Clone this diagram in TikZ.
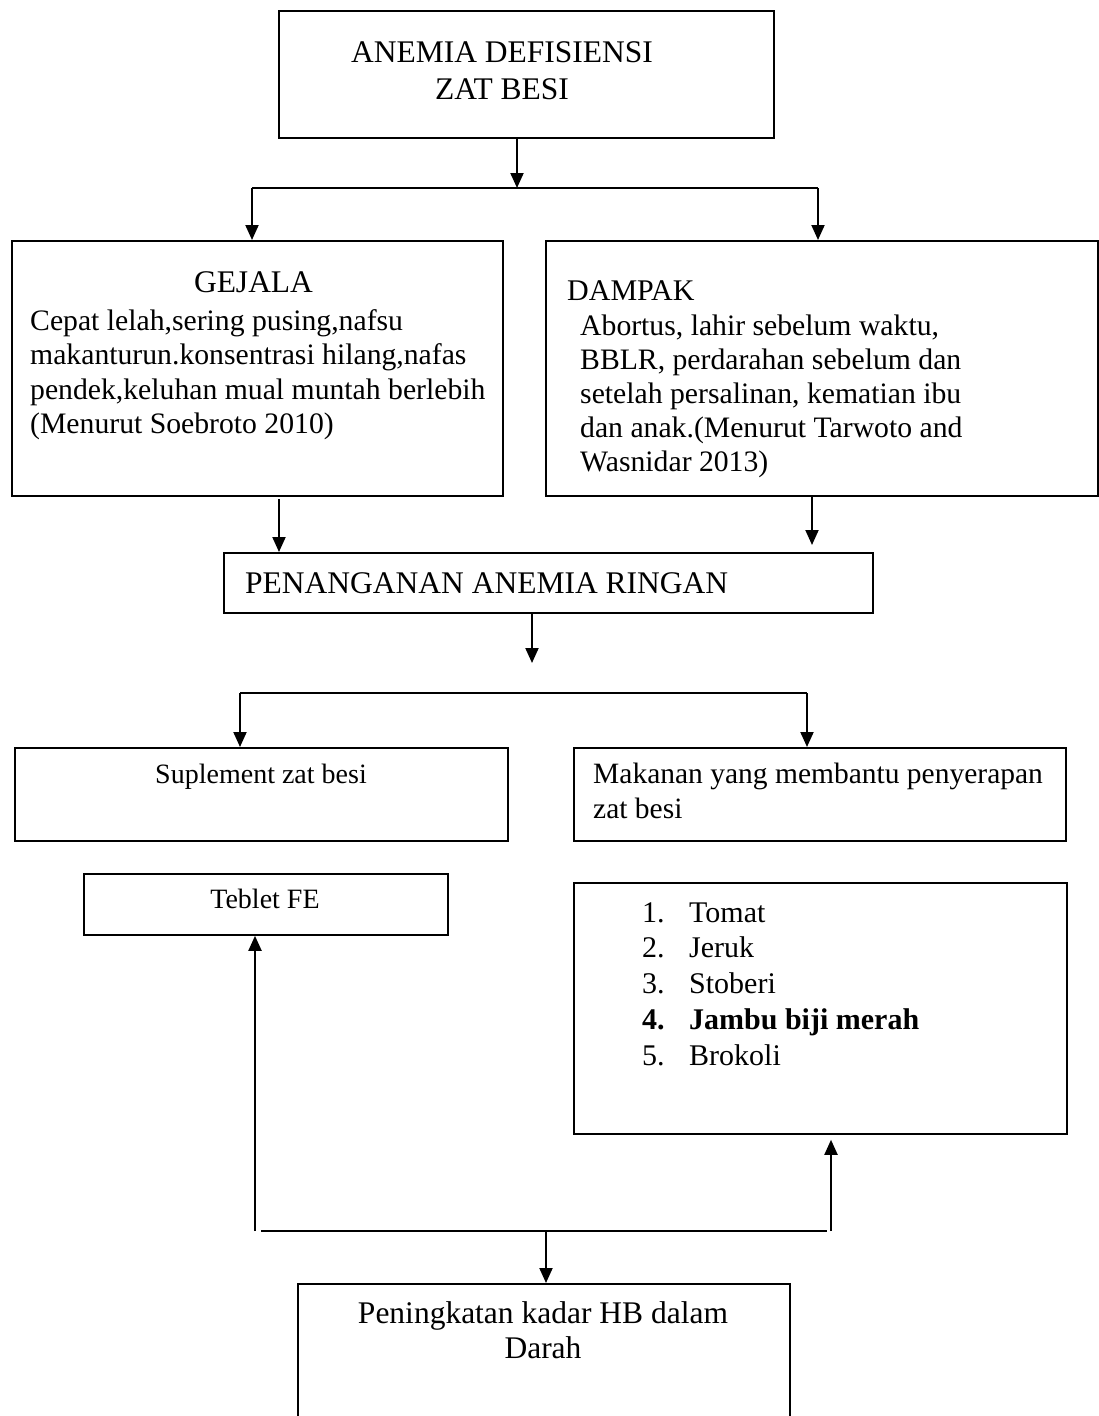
\documentclass[tikz,border=0pt]{standalone}
\usepackage{fontspec}
\setmainfont{Liberation Serif}
\usetikzlibrary{arrows.meta}
\tikzset{
  box/.style={draw, line width=1.8pt, inner sep=0pt, anchor=north west},
  conn/.style={line width=2pt},
  arr/.style={conn, -{Triangle[length=15pt,width=13pt]}},
  hfont/.style={font=\fontsize{31.5}{37}\selectfont},
  bfont/.style={font=\fontsize{29.7}{34.5}\selectfont},
  sfont/.style={font=\fontsize{28}{33}\selectfont},
  txt/.style={inner sep=0pt}
}
\begin{document}
\begin{tikzpicture}[x=1pt,y=-1pt]
\useasboundingbox (0,0) rectangle (1099,1416);

% boxes
\node[box, minimum width=495pt, minimum height=127pt] (top) at (278,10) {};
\node[box, minimum width=491pt, minimum height=255pt] (gej) at (11,240) {};
\node[box, minimum width=552pt, minimum height=255pt] (dam) at (545,240) {};
\node[box, minimum width=649pt, minimum height=60pt] (pen) at (223,552) {};
\node[box, minimum width=493pt, minimum height=93pt] (sup) at (14,747) {};
\node[box, minimum width=492pt, minimum height=93pt] (mak) at (573,747) {};
\node[box, minimum width=364pt, minimum height=61pt] (teb) at (83,873) {};
\node[box, minimum width=493pt, minimum height=251pt] (lst) at (573,882) {};
\node[box, minimum width=492pt, minimum height=145pt] (fin) at (297,1283) {};

% texts (base anchor of a multi-line node = baseline of its last line)
\node[txt, hfont, align=center, anchor=base] (toptxt) at (502,99) {ANEMIA DEFISIENSI\\ZAT BESI};
\node[txt, hfont, anchor=base] (gejh) at (253.5,292) {GEJALA};
\node[txt, bfont, align=left, anchor=base west] (gejb) at (30,433.5)
  {Cepat lelah,sering pusing,nafsu\\makanturun.konsentrasi hilang,nafas\\pendek,keluhan mual muntah berlebih\\(Menurut Soebroto 2010)};
\node[txt, font=\fontsize{30}{34}\selectfont, anchor=base west] (damh) at (567,300) {DAMPAK};
\node[txt, font=\fontsize{29.7}{34}\selectfont, align=left, anchor=base west] (damb) at (580,471)
  {Abortus, lahir sebelum waktu,\\BBLR, perdarahan sebelum dan\\setelah persalinan, kematian ibu\\dan anak.(Menurut Tarwoto and\\Wasnidar 2013)};
\node[txt, hfont, anchor=base west] (pentxt) at (245,593) {PENANGANAN ANEMIA RINGAN};
\node[txt, sfont, anchor=base] (suptxt) at (261,783) {Suplement zat besi};
\node[txt, font=\fontsize{29.5}{35}\selectfont, align=left, anchor=base west] (maktxt) at (593,818)
  {Makanan yang membantu penyerapan\\zat besi};
\node[txt, sfont, anchor=base] (tebtxt) at (265,908) {Teblet FE};
\node[txt, font=\fontsize{30}{35.75}\selectfont, align=left, anchor=base west] (lsttxt) at (642,1065)
  {\makebox[47pt][l]{1.}Tomat\\\makebox[47pt][l]{2.}Jeruk\\\makebox[47pt][l]{3.}Stoberi\\\textbf{\makebox[47pt][l]{4.}Jambu biji merah}\\\makebox[47pt][l]{5.}Brokoli};
\node[txt, font=\fontsize{31.5}{35}\selectfont, align=center, anchor=base] (fintxt) at (543,1358) {Peningkatan kadar HB dalam\\Darah};

% junction coordinates
\coordinate (j1) at (517,188);
\coordinate (j1L) at (252,188);
\coordinate (j1R) at (818,188);
\coordinate (k1) at (279,499);
\coordinate (k2) at (812,495);
\coordinate (a2) at (532,663);
\coordinate (b2L) at (240,693);
\coordinate (b2R) at (807,693);
\coordinate (c1) at (255,1231);
\coordinate (c2) at (261,1231);
\coordinate (c3) at (827,1231);
\coordinate (c4) at (831,1231);
\coordinate (c5) at (546,1231);

% connectors
\draw[arr] (top.south -| j1) -- (j1);
\draw[conn] (j1L) -- (j1R);
\draw[arr] (j1L) -- (gej.north -| j1L);
\draw[arr] (j1R) -- (dam.north -| j1R);
\draw[arr] (k1) -- (pen.north -| k1);
\draw[arr, shorten >=7pt] (k2) -- (pen.north -| k2);
\draw[arr] (pen.south -| a2) -- (a2);
\draw[conn] (b2L) -- (b2R);
\draw[arr] (b2L) -- (sup.north -| b2L);
\draw[arr] (b2R) -- (mak.north -| b2R);
\draw[arr] (c1) -- (teb.south -| c1);
\draw[conn] (c2) -- (c3);
\draw[arr, shorten >=5pt] (c4) -- (lst.south -| c4);
\draw[arr] (c5) -- (fin.north -| c5);
\end{tikzpicture}
\end{document}
